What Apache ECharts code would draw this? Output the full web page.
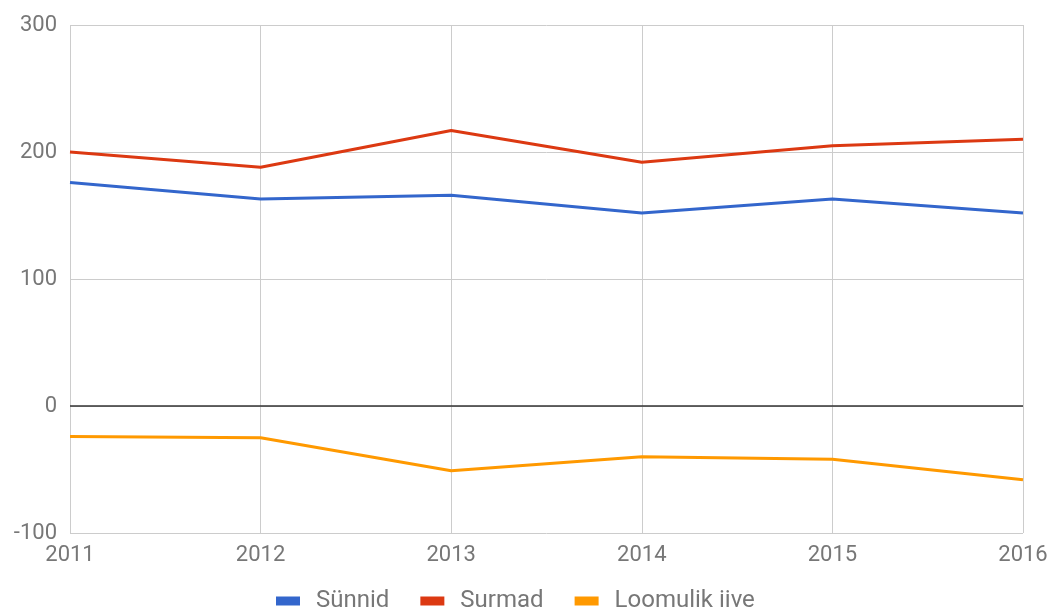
<!DOCTYPE html>
<html>
<head>
<meta charset="utf-8">
<script src="https://cdn.jsdelivr.net/npm/echarts@6/dist/echarts.min.js"></script>
<style>
  html, body { margin: 0; padding: 0; background: #fff; }
  #chart { width: 1052px; height: 611px; }
</style>
</head>
<body>
<div id="chart"></div>
<script>
const years = ['2011', '2012', '2013', '2014', '2015', '2016'];
const synnid = [176, 163, 166, 152, 163, 152];
const surmad = [200, 188, 217, 192, 205, 210];
const iive = [-24, -25, -51, -40, -42, -58];

const chart = echarts.init(document.getElementById('chart'));

const labelFont = {
    color: '#777',
    fontFamily: 'Roboto',
    fontSize: 22
};

function lineSeries(name, data, color) {
    return {
        name: name,
        type: 'line',
        data: data,
        symbol: 'none',
        lineStyle: { width: 3, color: color },
        itemStyle: { color: color }
    };
}

const series = [
    lineSeries('Sünnid', synnid, '#3366cc'),
    lineSeries('Surmad', surmad, '#dc3912'),
    lineSeries('Loomulik iive', iive, '#ff9900')
];
// black zero line
series[0].markLine = {
    silent: true,
    symbol: 'none',
    label: { show: false },
    lineStyle: { color: '#333', width: 1.5, type: 'solid' },
    data: [{ yAxis: 0 }]
};

chart.setOption({
    animation: false,
    grid: {
        left: 70,
        right: 29,
        top: 25,
        bottom: 78,
        containLabel: false
    },
    legend: {
        left: 276,
        top: 589,
        padding: 0,
        itemWidth: 24,
        itemHeight: 9,
        itemGap: 31,
        icon: 'rect',
        textStyle: {
            color: '#777',
            fontFamily: 'Roboto',
            fontSize: 24,
            padding: [0, 0, 0, 11]
        },
        data: ['Sünnid', 'Surmad', 'Loomulik iive']
    },
    xAxis: {
        type: 'category',
        boundaryGap: false,
        data: years,
        axisLine: { show: false, onZero: false },
        axisTick: { show: false },
        axisLabel: Object.assign({ margin: 11 }, labelFont),
        splitLine: { show: true, lineStyle: { color: '#ccc', width: 1 } }
    },
    yAxis: {
        type: 'value',
        min: -100,
        max: 300,
        interval: 100,
        axisLine: { show: false },
        axisTick: { show: false },
        axisLabel: Object.assign({ margin: 13 }, labelFont),
        splitLine: { show: true, lineStyle: { color: '#ccc', width: 1 } }
    },
    series: series
});
</script>
</body>
</html>
